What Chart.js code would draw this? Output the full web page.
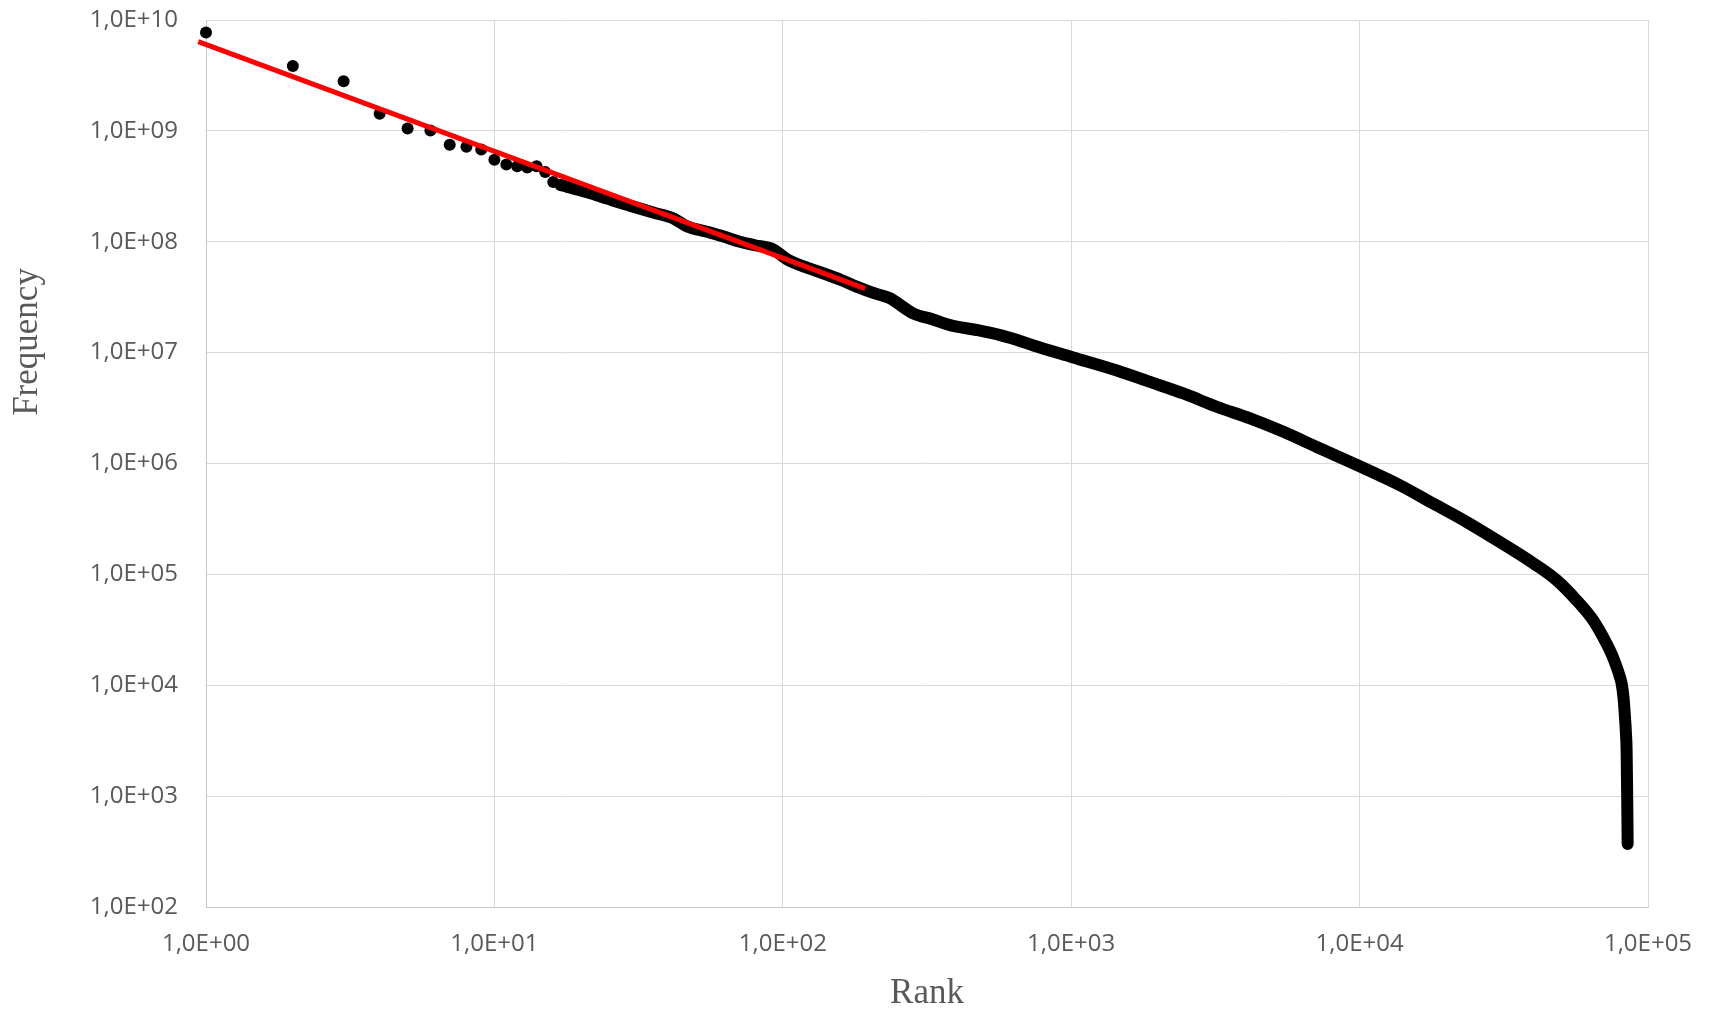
<!DOCTYPE html>
<html>
<head>
<meta charset="utf-8">
<script src="https://cdn.jsdelivr.net/npm/chart.js@4.4.1/dist/chart.umd.min.js"></script>
<style>
  html, body { margin: 0; padding: 0; background: #ffffff; }
  #wrap { width: 1715px; height: 1009px; position: relative; }
</style>
</head>
<body>
<div id="wrap"><canvas id="chart"></canvas></div>
<script>
// Rank–frequency distribution on log–log axes, with a power-law fit line.

// Most frequent words, one dot each
const headRanks = [1, 2, 3, 4, 5, 6, 7, 8, 9, 10, 11, 12, 13, 14, 15, 16, 17, 18];
const headFreqs = [7.7e9, 3.85e9, 2.8e9, 1.43e9, 1.05e9, 1.01e9, 7.5e8, 7.2e8, 6.8e8,
                   5.5e8, 4.97e8, 4.8e8, 4.67e8, 4.8e8, 4.26e8, 3.46e8, 3.23e8, 3.12e8];

// Remaining ranks, dense enough to merge into a continuous band
const bulkRanks = [17, 19, 21, 24.6, 28, 32, 36, 41.8, 46.4, 54.6, 62, 71, 80, 92, 103,
                   120, 138, 160, 181, 210, 236, 260, 284, 330, 380, 470, 567, 650, 740,
                   1009, 1440, 1878, 2449, 3198, 4170, 5445, 7100, 10140, 13800, 18000,
                   23500, 30700, 40000, 48200, 56500, 64500, 71800, 75000, 77800, 79800,
                   81000, 82300, 83200, 83800, 84300, 84700, 85000];
const bulkFreqs = [3.25e8, 3.0e8, 2.8e8, 2.45e8, 2.2e8, 1.99e8, 1.82e8, 1.62e8, 1.38e8,
                   1.23e8, 1.12e8, 1.0e8, 9.3e7, 8.6e7, 7.0e7, 5.9e7, 5.2e7, 4.5e7, 3.92e7,
                   3.4e7, 3.08e7, 2.6e7, 2.25e7, 2.0e7, 1.77e7, 1.6e7, 1.44e7, 1.3e7, 1.16e7,
                   9.1e6, 6.9e6, 5.44e6, 4.28e6, 3.25e6, 2.55e6, 1.93e6, 1.41e6, 9.3e5, 6.37e5,
                   4.35e5, 2.97e5, 1.95e5, 1.26e5, 8.87e4, 5.85e4, 3.86e4, 2.38e4, 1.88e4,
                   1.47e4, 1.2e4, 1.04e4, 7.6e3, 5.2e3, 3.8e3, 2.6e3, 1.0e3, 370];

// Power-law trend line endpoints
const fitRanks = [0.94, 193];
const fitFreqs = [6.38e9, 3.78e7];

// Axis ticks
const xTicks = [1, 10, 100, 1000, 10000, 100000];
const xTickLabels = ['1,0E+00', '1,0E+01', '1,0E+02', '1,0E+03', '1,0E+04', '1,0E+05'];
const yTicks = [1e2, 1e3, 1e4, 1e5, 1e6, 1e7, 1e8, 1e9, 1e10];
const yTickLabels = ['1,0E+02', '1,0E+03', '1,0E+04', '1,0E+05', '1,0E+06',
                     '1,0E+07', '1,0E+08', '1,0E+09', '1,0E+10'];

const xTitle = 'Rank';
const yTitle = 'Frequency';

const toPoints = (xs, ys) => xs.map((x, i) => ({ x: x, y: ys[i] }));

const textGrey = '#595959';
const tickFont = { family: '"Open Sans", "Noto Sans", sans-serif', size: 24 };

// Serif axis captions, drawn after the chart
const axisCaptions = {
  id: 'axisCaptions',
  afterDraw(chart) {
    const { ctx, chartArea: a } = chart;
    ctx.save();
    ctx.fillStyle = textGrey;
    ctx.font = '35px "Liberation Serif", "DejaVu Serif", serif';
    ctx.textAlign = 'center';
    ctx.textBaseline = 'alphabetic';
    ctx.fillText(xTitle, (a.left + a.right) / 2, chart.height - 6);
    ctx.translate(37, a.top + (a.bottom - a.top) * 0.363);
    ctx.rotate(-Math.PI / 2);
    ctx.fillText(yTitle, 0, 0);
    ctx.restore();
  }
};

new Chart(document.getElementById('chart'), {
  type: 'scatter',
  data: {
    datasets: [
      {
        label: 'Trend',
        data: toPoints(fitRanks, fitFreqs),
        showLine: true,
        borderColor: '#ff0000',
        borderWidth: 5,
        pointRadius: 0,
        clip: false,
        order: 0
      },
      {
        label: 'Top ranks',
        data: toPoints(headRanks, headFreqs),
        backgroundColor: '#000000',
        borderWidth: 0,
        pointRadius: 6,
        clip: false,
        order: 1
      },
      {
        label: 'All ranks',
        data: toPoints(bulkRanks, bulkFreqs),
        showLine: true,
        borderColor: '#000000',
        borderWidth: 12,
        borderCapStyle: 'round',
        borderJoinStyle: 'round',
        cubicInterpolationMode: 'monotone',
        pointRadius: 0,
        order: 2
      }
    ]
  },
  options: {
    responsive: true,
    maintainAspectRatio: false,
    animation: false,
    events: [],
    layout: { autoPadding: false, padding: { top: 20, right: 67, bottom: 0, left: 0 } },
    plugins: {
      legend: { display: false },
      tooltip: { enabled: false }
    },
    scales: {
      x: {
        type: 'logarithmic',
        min: xTicks[0],
        max: xTicks[xTicks.length - 1],
        afterBuildTicks: s => { s.ticks = xTicks.map(v => ({ value: v })); },
        afterFit: s => { s.height = 102; s.paddingLeft = 0; s.paddingRight = 0; },
        ticks: {
          autoSkip: false,
          maxRotation: 0,
          padding: 23,
          color: textGrey,
          font: tickFont,
          callback: v => xTickLabels[xTicks.indexOf(v)]
        },
        grid: { color: '#d9d9d9', lineWidth: 1, drawTicks: false },
        border: { color: '#c6c6c6', width: 1 }
      },
      y: {
        type: 'logarithmic',
        min: yTicks[0],
        max: yTicks[yTicks.length - 1],
        afterBuildTicks: s => { s.ticks = yTicks.map(v => ({ value: v })); },
        afterFit: s => { s.width = 206; s.paddingTop = 0; s.paddingBottom = 0; },
        ticks: {
          autoSkip: false,
          padding: 28,
          color: textGrey,
          font: tickFont,
          callback: v => yTickLabels[yTicks.indexOf(v)]
        },
        grid: { color: '#d9d9d9', lineWidth: 1, drawTicks: false },
        border: { color: '#c6c6c6', width: 1 }
      }
    }
  },
  plugins: [axisCaptions]
});
</script>
</body>
</html>
